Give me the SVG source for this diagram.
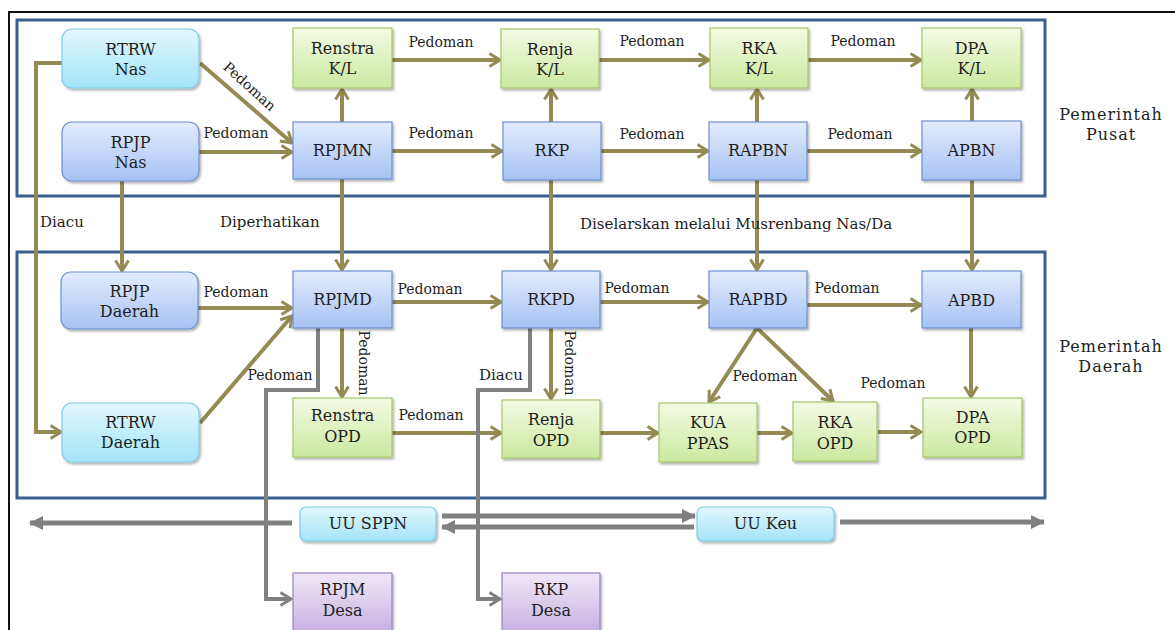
<svg xmlns="http://www.w3.org/2000/svg" width="1175" height="630" viewBox="0 0 1175 630">
<defs>
<linearGradient id="gG" x1="0" y1="0" x2="0" y2="1"><stop offset="0" stop-color="#f4fbe4"/><stop offset="1" stop-color="#cce8a0"/></linearGradient>
<linearGradient id="gB" x1="0" y1="0" x2="0" y2="1"><stop offset="0" stop-color="#e3ecfd"/><stop offset="1" stop-color="#a6c2f3"/></linearGradient>
<linearGradient id="gC" x1="0" y1="0" x2="0" y2="1"><stop offset="0" stop-color="#e2f7fd"/><stop offset="1" stop-color="#a3e4f9"/></linearGradient>
<linearGradient id="gP" x1="0" y1="0" x2="0" y2="1"><stop offset="0" stop-color="#f0e9f7"/><stop offset="1" stop-color="#c0a6de"/></linearGradient>
<filter id="sh" x="-10%" y="-10%" width="125%" height="130%"><feDropShadow dx="1.5" dy="2" stdDeviation="1.2" flood-color="#000" flood-opacity="0.3"/></filter>
<marker id="aO" viewBox="0 0 14 16" refX="12" refY="8" markerWidth="14" markerHeight="16" markerUnits="userSpaceOnUse" orient="auto"><path d="M1.5,1.5 L12,8 L1.5,14.5" fill="none" stroke="#948a54" stroke-width="3" stroke-linejoin="miter"/></marker>
<marker id="aG" viewBox="0 0 14 16" refX="12" refY="8" markerWidth="14" markerHeight="16" markerUnits="userSpaceOnUse" orient="auto"><path d="M1.5,1.5 L12,8 L1.5,14.5" fill="none" stroke="#808080" stroke-width="3"/></marker>
<marker id="aT" viewBox="0 0 14 14" refX="13" refY="7" markerWidth="14" markerHeight="14" markerUnits="userSpaceOnUse" orient="auto"><path d="M0,0 L14,7 L0,14 Z" fill="#808080"/></marker>
</defs>
<style>
.fr{fill:none;stroke:#3b5e8c;stroke-width:3}
.ng{fill:url(#gG);stroke:#a5c56c;stroke-width:1.2;filter:url(#sh)}
.nb{fill:url(#gB);stroke:#6c91cf;stroke-width:1.2;filter:url(#sh)}
.nc{fill:url(#gC);stroke:#80cce4;stroke-width:1.2;filter:url(#sh)}
.np{fill:url(#gP);stroke:#9a80c0;stroke-width:1.2;filter:url(#sh)}
.t{font-family:"DejaVu Serif","Liberation Serif",serif;font-size:16px;fill:#1e1e1e;text-anchor:middle}
.l{font-family:"DejaVu Serif","Liberation Serif",serif;font-size:14px;fill:#1e1e1e;text-anchor:middle}
.m{font-family:"DejaVu Serif","Liberation Serif",serif;font-size:15px;fill:#1e1e1e}
.ol{fill:none;stroke:#948a54;stroke-width:4;marker-end:url(#aO)}
.gr{fill:none;stroke:#808080;stroke-width:4;marker-end:url(#aG)}
.gt{fill:none;stroke:#808080;stroke-width:5;marker-end:url(#aT)}
</style>
<rect width="1175" height="630" fill="#fff"/>
<path d="M9,630 V12 H1175" fill="none" stroke="#111" stroke-width="2"/>
<rect class="fr" x="17" y="20" width="1028" height="176"/>
<rect class="fr" x="17" y="252" width="1028" height="246"/>

<g id="connectors">
<path class="ol" d="M62,63 H36 V432 H61"/>
<path class="ol" d="M200,63 L292,143"/>
<path class="ol" d="M199,152 H292"/>
<path class="ol" d="M342,122 V89"/>
<path class="ol" d="M392,60 H500"/>
<path class="ol" d="M599,60 H709"/>
<path class="ol" d="M808,60 H921"/>
<path class="ol" d="M392,151 H502"/>
<path class="ol" d="M601,151 H708"/>
<path class="ol" d="M807,151 H921"/>
<path class="ol" d="M551,122 V89"/>
<path class="ol" d="M757,122 V89"/>
<path class="ol" d="M972,121 V89"/>
<path class="ol" d="M122,181 V271"/>
<path class="ol" d="M342,179 V270"/>
<path class="ol" d="M551,180 V270"/>
<path class="ol" d="M757,180 V270"/>
<path class="ol" d="M972,180 V270"/>
<path class="ol" d="M198,308 H292"/>
<path class="ol" d="M200,423 L292,316"/>
<path class="ol" d="M392,302 H501"/>
<path class="ol" d="M600,302 H708"/>
<path class="ol" d="M807,305 H921"/>
<path class="ol" d="M342,328 V397"/>
<path class="ol" d="M551,328 V399"/>
<path class="ol" d="M392,433 H501"/>
<path class="ol" d="M600,433 H658"/>
<path class="ol" d="M757,433 H792"/>
<path class="ol" d="M878,432 H921"/>
<path class="ol" d="M757,328 L709,402"/>
<path class="ol" d="M757,328 L833,401"/>
<path class="ol" d="M971,328 V397"/>
<path class="gr" d="M318,328 V390 H266 V599 H291"/>
<path class="gr" d="M530,328 V390 H478 V599 H500"/>
<path class="gt" d="M292,523 H30"/>
<path class="gt" d="M442,516 H695"/>
<path class="gt" d="M694,527 H442"/>
<path class="gt" d="M840,522 H1044"/>
</g>

<g id="labels">
<text class="l" transform="translate(249,87) rotate(42)" y="4">Pedoman</text>
<text class="l" x="236" y="138">Pedoman</text>
<text class="l" x="441" y="47">Pedoman</text>
<text class="l" x="652" y="46">Pedoman</text>
<text class="l" x="863" y="46">Pedoman</text>
<text class="l" x="441" y="138">Pedoman</text>
<text class="l" x="652" y="139">Pedoman</text>
<text class="l" x="860" y="139">Pedoman</text>
<text class="m" x="40" y="227">Diacu</text>
<text class="m" x="220" y="227">Diperhatikan</text>
<text class="m" x="580" y="229">Diselarskan melalui Musrenbang Nas/Da</text>
<text class="l" x="236" y="297">Pedoman</text>
<text class="l" x="280" y="380">Pedoman</text>
<text class="l" x="430" y="294">Pedoman</text>
<text class="l" x="637" y="293">Pedoman</text>
<text class="l" x="847" y="293">Pedoman</text>
<text class="l" x="431" y="420">Pedoman</text>
<text class="l" x="765" y="381">Pedoman</text>
<text class="l" x="893" y="388">Pedoman</text>
<text class="l" transform="translate(363,363) rotate(90)" y="4">Pedoman</text>
<text class="l" transform="translate(569,363) rotate(90)" y="4">Pedoman</text>
<text class="m" x="479" y="380">Diacu</text>
<text class="t" x="1111" y="120" style="letter-spacing:1px">Pemerintah</text>
<text class="t" x="1111" y="140" style="letter-spacing:1px">Pusat</text>
<text class="t" x="1111" y="352" style="letter-spacing:1px">Pemerintah</text>
<text class="t" x="1111" y="372" style="letter-spacing:1px">Daerah</text>
</g>

<g id="rtrw-nas"><rect class="nc" x="62" y="29" width="137" height="59" rx="10"/><text class="t" x="130.5" y="55">RTRW</text><text class="t" x="130.5" y="75">Nas</text></g>
<g id="rpjp-nas"><rect class="nb" x="62" y="122" width="137" height="59" rx="10"/><text class="t" x="130.5" y="148">RPJP</text><text class="t" x="130.5" y="168">Nas</text></g>
<g id="renstra-kl"><rect class="ng" x="293" y="28" width="99" height="60"/><text class="t" x="342.5" y="54">Renstra</text><text class="t" x="342.5" y="74">K/L</text></g>
<g id="rpjmn"><rect class="nb" x="293" y="122" width="99" height="57"/><text class="t" x="342.5" y="156">RPJMN</text></g>
<g id="renja-kl"><rect class="ng" x="501" y="29" width="98" height="59"/><text class="t" x="550" y="55">Renja</text><text class="t" x="550" y="75">K/L</text></g>
<g id="rkp"><rect class="nb" x="503" y="122" width="98" height="58"/><text class="t" x="552" y="156">RKP</text></g>
<g id="rka-kl"><rect class="ng" x="710" y="28" width="98" height="60"/><text class="t" x="759" y="54">RKA</text><text class="t" x="759" y="74">K/L</text></g>
<g id="rapbn"><rect class="nb" x="709" y="122" width="98" height="58"/><text class="t" x="758" y="156">RAPBN</text></g>
<g id="dpa-kl"><rect class="ng" x="922" y="28" width="99" height="60"/><text class="t" x="971.5" y="54">DPA</text><text class="t" x="971.5" y="74">K/L</text></g>
<g id="apbn"><rect class="nb" x="922" y="121" width="99" height="59"/><text class="t" x="971.5" y="156">APBN</text></g>

<g id="rpjp-daerah"><rect class="nb" x="61" y="272" width="137" height="57" rx="10"/><text class="t" x="129.5" y="297">RPJP</text><text class="t" x="129.5" y="317">Daerah</text></g>
<g id="rpjmd"><rect class="nb" x="293" y="271" width="99" height="57"/><text class="t" x="342.5" y="305">RPJMD</text></g>
<g id="rkpd"><rect class="nb" x="502" y="271" width="98" height="57"/><text class="t" x="551" y="305">RKPD</text></g>
<g id="rapbd"><rect class="nb" x="709" y="271" width="98" height="57"/><text class="t" x="758" y="305">RAPBD</text></g>
<g id="apbd"><rect class="nb" x="922" y="271" width="99" height="57"/><text class="t" x="971.5" y="306">APBD</text></g>
<g id="rtrw-daerah"><rect class="nc" x="62" y="403" width="137" height="59" rx="10"/><text class="t" x="130.5" y="428">RTRW</text><text class="t" x="130.5" y="448">Daerah</text></g>
<g id="renstra-opd"><rect class="ng" x="293" y="398" width="99" height="59"/><text class="t" x="342.5" y="421">Renstra</text><text class="t" x="342.5" y="442">OPD</text></g>
<g id="renja-opd"><rect class="ng" x="502" y="400" width="98" height="58"/><text class="t" x="551" y="425">Renja</text><text class="t" x="551" y="446">OPD</text></g>
<g id="kua-ppas"><rect class="ng" x="659" y="403" width="98" height="59"/><text class="t" x="708" y="428">KUA</text><text class="t" x="708" y="449">PPAS</text></g>
<g id="rka-opd"><rect class="ng" x="793" y="402" width="84" height="59"/><text class="t" x="835" y="428">RKA</text><text class="t" x="835" y="449">OPD</text></g>
<g id="dpa-opd"><rect class="ng" x="923" y="398" width="99" height="59"/><text class="t" x="972.5" y="423">DPA</text><text class="t" x="972.5" y="443">OPD</text></g>

<g id="uu-sppn"><rect class="nc" x="300" y="507" width="136" height="34" rx="6"/><text class="t" x="368" y="529">UU SPPN</text></g>
<g id="uu-keu"><rect class="nc" x="697" y="507" width="137" height="34" rx="6"/><text class="t" x="765.5" y="529">UU Keu</text></g>
<g id="rpjm-desa"><rect class="np" x="293" y="573" width="99" height="70"/><text class="t" x="342.5" y="595">RPJM</text><text class="t" x="342.5" y="616">Desa</text></g>
<g id="rkp-desa"><rect class="np" x="502" y="573" width="98" height="70"/><text class="t" x="551" y="595">RKP</text><text class="t" x="551" y="616">Desa</text></g>
</svg>
